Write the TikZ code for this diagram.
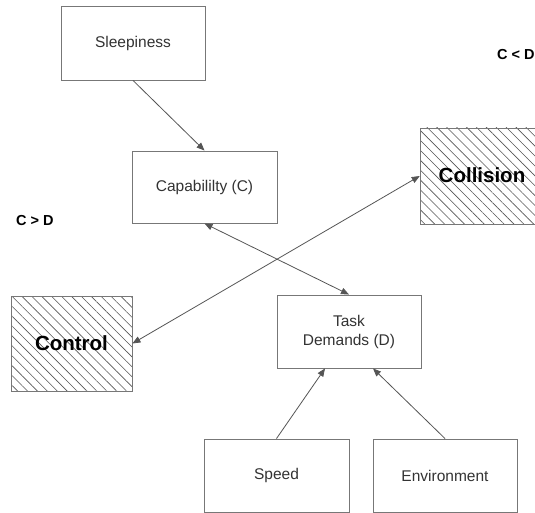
\documentclass[tikz,border=0pt]{standalone}
\usepackage{fontspec}
\setmainfont{Liberation Sans}
\usetikzlibrary{arrows.meta,patterns.meta}
\definecolor{boxline}{HTML}{777777}
\definecolor{arrline}{HTML}{555555}
\definecolor{txt}{HTML}{333333}
\tikzset{
  plainbox/.style={draw=boxline, line width=0.9pt, fill=white, rectangle, inner sep=0pt,
    font=\fontsize{15.5}{19}\selectfont, text=txt, align=center},
  hatchbox/.style={draw=boxline, line width=0.9pt, rectangle, inner sep=0pt,
    pattern={Lines[angle=-45,distance=7pt,line width=0.6pt]}, pattern color=arrline,
    font=\fontsize{20.5}{24}\selectfont\bfseries, text=black},
  cond/.style={font=\fontsize{14.5}{17}\selectfont\bfseries, text=black, anchor=west, inner sep=0pt},
  conn/.style={draw=arrline, line width=0.8pt, -{Triangle[length=8pt,width=6.5pt]}},
  biconn/.style={draw=arrline, line width=0.8pt, {Triangle[length=8pt,width=6.5pt]}-{Triangle[length=8pt,width=6.5pt]}},
}
\begin{document}
\begin{tikzpicture}[x=1pt,y=1pt]
\useasboundingbox (0,0) rectangle (535,512);
\fill[white] (0,0) rectangle (535,512);
\begin{scope}
\clip (0,0) rectangle (535,512);
\node[plainbox, minimum width=144pt, minimum height=74pt] (sleep) at (133,469) {Sleepiness};
\node[plainbox, minimum width=145pt, minimum height=72pt] (cap) at (204.5,325) {Capabililty (C)};
\node[hatchbox, minimum width=130pt, minimum height=96pt] (coll) at (485,336) {};
\node[font=\fontsize{20.5}{24}\selectfont\bfseries, text=black] (colltxt) at (482,337) {Collision};
\node[hatchbox, minimum width=121pt, minimum height=95pt] (ctrl) at (71.5,168.5) {Control};
\node[plainbox, minimum width=144pt, minimum height=73pt] (task) at (349,180.5) {Task\\Demands (D)};
\node[plainbox, minimum width=145pt, minimum height=73pt] (speed) at (276.5,36.5) {Speed};
\node[plainbox, minimum width=144pt, minimum height=73pt] (env) at (445,36.5) {Environment};
\node[cond] (cld) at (497,457) {C < D};
\node[cond] (cgd) at (16,291) {C > D};
\coordinate (tl) at ([xshift=-24pt]task.south);
\coordinate (tr) at ([xshift=24pt]task.south);
\draw[conn] (sleep.south) -- (cap.north);
\draw[biconn] (cap.south) -- (task.north);
\draw[biconn] (ctrl.east) -- (coll.west);
\draw[conn] (speed.north) -- (tl);
\draw[conn] (env.north) -- (tr);
\end{scope}
\end{tikzpicture}
\end{document}
